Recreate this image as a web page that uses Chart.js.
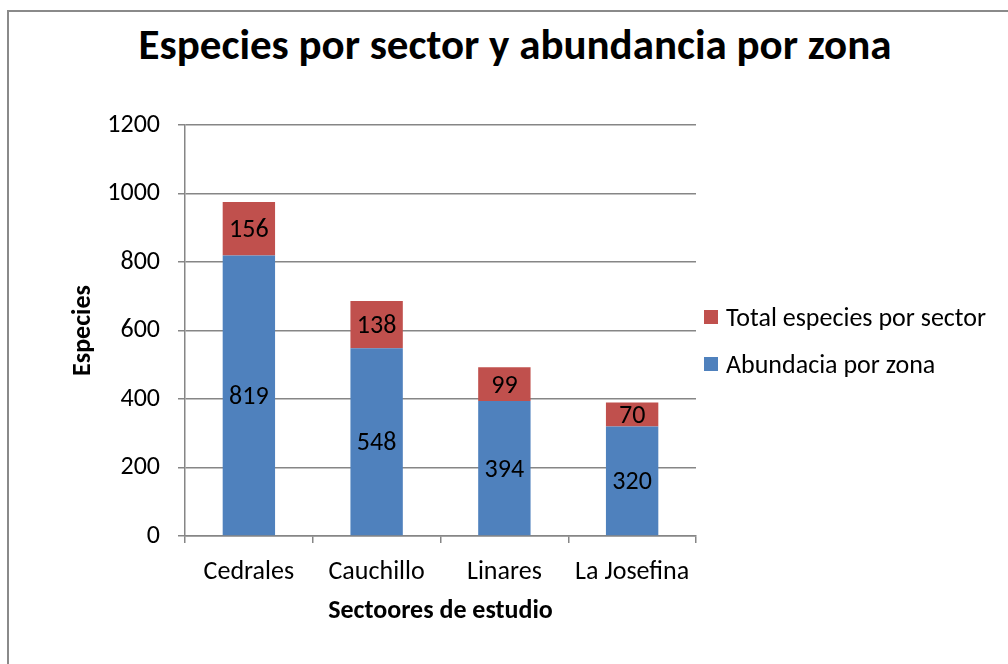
<!DOCTYPE html>
<html>
<head>
<meta charset="utf-8">
<script src="https://cdn.jsdelivr.net/npm/chart.js@4.4.1/dist/chart.umd.min.js"></script>
<style>
  body { margin: 0; background: #fff; width: 1008px; height: 664px; overflow: hidden; position: relative; font-family: Carlito, Lato, sans-serif; }
  .frame { position: absolute; left: 7px; top: 10px; width: 1100px; height: 800px; border: 2px solid #8a8a8a; }
  .wrap { position: absolute; left: 0; top: 0; width: 1008px; height: 664px; }
  h1 { position: absolute; left: 0; width: 1030px; top: 20px; margin: 0; text-align: center; font-size: 43px; line-height: 50px; font-weight: bold; color: #000; }
  #legend { position: absolute; left: 704px; top: 0; }
  #legend .item { position: absolute; left: 0; white-space: nowrap; font-size: 26px; line-height: 30px; height: 30px; }
  #legend .box { position: absolute; left: 0; top: 8px; width: 14px; height: 14px; }
  #legend .txt { position: absolute; left: 22px; top: 0; }
</style>
</head>
<body>
<div class="frame"></div>
<h1>Especies por sector y abundancia por zona</h1>
<div class="wrap"><canvas id="chart" width="1008" height="664"></canvas></div>
<div id="legend"></div>
<script>
const sectores = ['Cedrales', 'Cauchillo', 'Linares', 'La Josefina'];
const abundancia = [819, 548, 394, 320];
const totalEspecies = [156, 138, 99, 70];
const yTicks = [0, 200, 400, 600, 800, 1000, 1200];

const fontFam = 'Carlito, Lato, sans-serif';
const gridGray = '#868686';

// values written in the middle of each stacked segment
const segmentLabels = {
  id: 'segmentLabels',
  afterDatasetsDraw(chart) {
    const ctx = chart.ctx;
    ctx.save();
    ctx.font = '26px ' + fontFam;
    ctx.fillStyle = '#000';
    ctx.textAlign = 'center';
    ctx.textBaseline = 'middle';
    chart.data.datasets.forEach((ds, i) => {
      chart.getDatasetMeta(i).data.forEach((bar, j) => {
        const p = bar.getProps(['x', 'y', 'base'], true);
        ctx.fillText(ds.data[j], p.x, (p.y + p.base) / 2 + 2);
      });
    });
    ctx.restore();
  }
};

const chart = new Chart(document.getElementById('chart'), {
  type: 'bar',
  data: {
    labels: sectores,
    datasets: [
      { label: 'Abundacia por zona', data: abundancia, backgroundColor: '#4F81BD' },
      { label: 'Total especies por sector', data: totalEspecies, backgroundColor: '#C0504D' }
    ]
  },
  options: {
    responsive: false,
    animation: false,
    devicePixelRatio: 1,
    layout: { padding: { left: 0, right: 312, top: 125, bottom: 0 } },
    datasets: { bar: { categoryPercentage: 1, barPercentage: 0.41 } },
    plugins: {
      legend: { display: false },
      title: { display: false },
      tooltip: { enabled: false }
    },
    scales: {
      x: {
        stacked: true,
        afterFit(scale) { scale.height = 128; },
        grid: { drawOnChartArea: false, drawTicks: true, tickLength: 7, color: gridGray, lineWidth: 1.5, offset: true },
        border: { color: gridGray, width: 1.5 },
        ticks: { color: '#000', padding: 14, font: { family: fontFam, size: 26 } },
        title: { display: true, text: 'Sectoores de estudio', color: '#000', font: { family: fontFam, size: 26, weight: 'bold' }, padding: { top: 0, bottom: 37 } }
      },
      y: {
        stacked: true,
        min: 0,
        max: 1200,
        afterFit(scale) { scale.width = 185; },
        afterBuildTicks(scale) { scale.ticks = yTicks.map(v => ({ value: v })); },
        grid: { color: gridGray, lineWidth: 1.5, tickLength: 7 },
        border: { color: gridGray, width: 1.5 },
        ticks: { color: '#000', padding: 18, font: { family: fontFam, size: 26 }, callback: v => String(v) },
        title: { display: true, text: 'Especies', color: '#000', font: { family: fontFam, size: 26, weight: 'bold' }, padding: { top: 68, bottom: 0 } }
      }
    }
  },
  plugins: [segmentLabels]
});

// legend to the right, top item is the top segment
const legendEl = document.getElementById('legend');
const legendTops = [302, 349];
chart.data.datasets.slice().reverse().forEach((ds, k) => {
  const item = document.createElement('div');
  item.className = 'item';
  item.style.top = legendTops[k] + 'px';
  item.innerHTML = '<span class="box" style="background:' + ds.backgroundColor + '"></span><span class="txt">' + ds.label + '</span>';
  legendEl.appendChild(item);
});
</script>
</body>
</html>
